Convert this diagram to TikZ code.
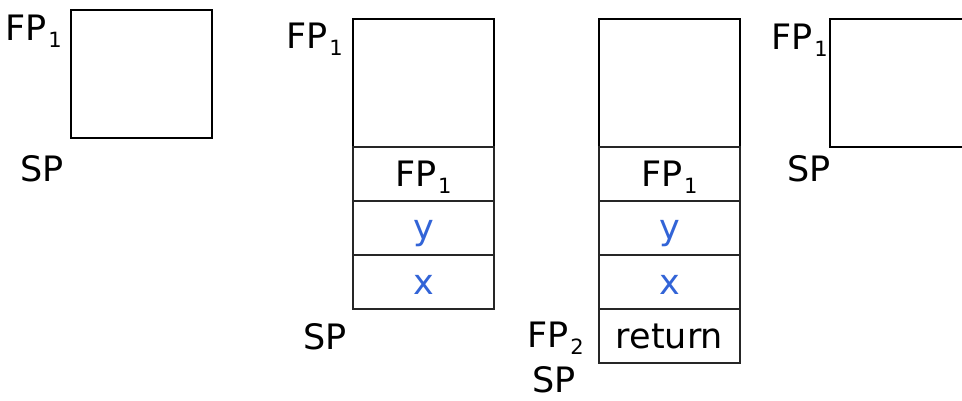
\documentclass[tikz,border=0pt]{standalone}
\usepackage{fontspec}
\setmainfont{DejaVu Sans}
\definecolor{varblue}{RGB}{50,100,215}
\newcommand\subnum[1]{\kern1.5pt\raisebox{-7pt}{\fontsize{21}{21}\selectfont #1}}
\begin{document}
\begin{tikzpicture}[x=1pt,y=-1pt,
  lbl/.style={inner sep=0pt, font=\fontsize{35}{40}\selectfont},
  frame/.style={draw=black, line width=2.4pt, inner sep=0pt, minimum width=141pt, minimum height=128pt},
  cell/.style={draw=black!85, line width=1.6pt, inner sep=0pt, minimum width=141pt, minimum height=54pt, text height=24pt, text depth=0pt, font=\fontsize{35}{40}\selectfont},
  var/.style={cell, text=varblue}]
\useasboundingbox (0,0) rectangle (962,401);
\clip (0,0) rectangle (962,401);
% column 1
\node[frame] (f1) at (141.5,74) {};
\node[lbl, anchor=base east] (fp1a) at (62,41) {FP\subnum{1}};
\node[lbl, anchor=base west] (spa) at (20,182) {SP};
% column 2
\node[frame] (f2) at (423.5,83) {};
\node[cell] (c2a) at (423.5,174) {FP\subnum{1}};
\node[var] (c2b) at (423.5,228) {y};
\node[var] (c2c) at (423.5,282) {x};
\node[lbl, anchor=base east] (fp1b) at (343,49) {FP\subnum{1}};
\node[lbl, anchor=base west] (spb) at (303,349) {SP};
% column 3
\node[frame] (f3) at (669.5,83) {};
\node[cell] (c3a) at (669.5,174) {FP\subnum{1}};
\node[var] (c3b) at (669.5,228) {y};
\node[var] (c3c) at (669.5,282) {x};
\node[cell] (c3d) at (669.5,336) {return};
\node[lbl, anchor=base east] (fp2) at (584,347) {FP\subnum{2}};
\node[lbl, anchor=base west] (spc) at (532,392) {SP};
% column 4
\node[frame] (f4) at (900.5,83) {};
\node[lbl, anchor=base east] (fp1c) at (828,50) {FP\subnum{1}};
\node[lbl, anchor=base west] (spd) at (787,182) {SP};
\end{tikzpicture}
\end{document}
